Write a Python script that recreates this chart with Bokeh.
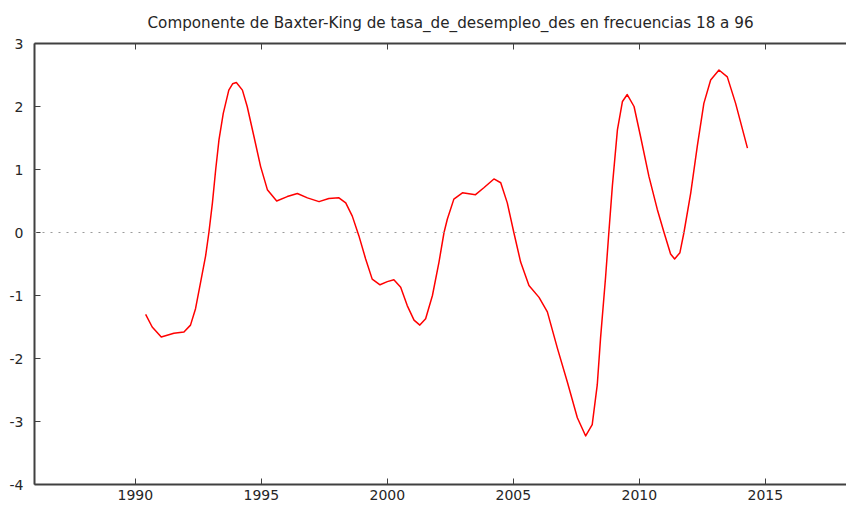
from bokeh.plotting import figure
from bokeh.models import Range1d, LinearAxis, FixedTicker, Span
from bokeh.embed import file_html
from bokeh.resources import INLINE

# Baxter-King cycle component
years = [1990.41, 1990.67, 1991.03, 1991.53, 1991.93, 1992.19, 1992.39, 1992.59,
         1992.79, 1992.92, 1993.06, 1993.19, 1993.32, 1993.49, 1993.71, 1993.86,
         1994.01, 1994.25, 1994.44, 1994.71, 1994.97, 1995.24, 1995.61, 1996.03,
         1996.43, 1996.83, 1997.29, 1997.68, 1998.08, 1998.35, 1998.61, 1998.87,
         1999.14, 1999.40, 1999.71, 2000.00, 2000.26, 2000.53, 2000.79, 2001.06,
         2001.29, 2001.52, 2001.79, 2002.05, 2002.25, 2002.38, 2002.64, 2002.98,
         2003.50, 2003.83, 2004.23, 2004.50, 2004.76, 2005.02, 2005.29, 2005.62,
         2006.02, 2006.35, 2006.75, 2007.14, 2007.54, 2007.87, 2008.13, 2008.33,
         2008.46, 2008.66, 2008.79, 2008.93, 2009.13, 2009.33, 2009.52, 2009.79,
         2010.05, 2010.38, 2010.71, 2010.98, 2011.24, 2011.40, 2011.61, 2011.77,
         2012.04, 2012.30, 2012.56, 2012.83, 2013.16, 2013.49, 2013.82, 2014.29]
bk_values = [-1.30, -1.50, -1.66, -1.60, -1.58, -1.47, -1.21, -0.79,
             -0.37, 0.00, 0.47, 1.00, 1.47, 1.89, 2.26, 2.36,
             2.38, 2.26, 2.00, 1.52, 1.05, 0.68, 0.50, 0.57,
             0.62, 0.55, 0.49, 0.54, 0.55, 0.47, 0.26, -0.05,
             -0.42, -0.74, -0.83, -0.78, -0.75, -0.87, -1.16, -1.39,
             -1.47, -1.37, -1.00, -0.47, 0.00, 0.21, 0.53, 0.63,
             0.60, 0.71, 0.85, 0.79, 0.47, 0.00, -0.47, -0.84,
             -1.03, -1.26, -1.84, -2.37, -2.94, -3.23, -3.05, -2.42,
             -1.68, -0.71, 0.00, 0.74, 1.63, 2.08, 2.19, 2.00,
             1.52, 0.89, 0.37, 0.00, -0.34, -0.42, -0.32, 0.00,
             0.63, 1.37, 2.05, 2.42, 2.58, 2.47, 2.05, 1.34]

x_ticks = [1990, 1995, 2000, 2005, 2010, 2015]
y_ticks = [-4, -3, -2, -1, 0, 1, 2, 3]
y_tick_labels = ["-4", "-3", "-2", "-1", "0", "1", "2", "3"]

title_text = "Componente de Baxter-King de tasa_de_desempleo_des en frecuencias 18 a 96"

FONT = "DejaVu Sans"
AXIS_COLOR = "#404040"
TEXT_COLOR = "#262626"

p = figure(width=846, height=506, output_backend="svg", toolbar_location=None,
           x_range=Range1d(1986.0, 2018.22), y_range=Range1d(-4, 3),
           x_axis_location=None, y_axis_location=None,
           min_border_left=34, min_border_right=0, min_border_top=43,
           min_border_bottom=22)
p.outline_line_color = None
p.grid.visible = False

p.title.text = title_text
p.title.align = "left"
p.title.text_font = FONT
p.title.text_font_size = "15.2px"
p.title.text_font_style = "normal"
p.title.text_color = TEXT_COLOR
p.title.offset = 113
p.title.standoff = 23

def style_axis(ax, show_labels=True, standoff=8):
    ax.axis_line_color = AXIS_COLOR
    ax.axis_line_width = 2
    ax.major_tick_line_color = AXIS_COLOR
    ax.major_tick_line_width = 1
    ax.major_tick_in = 6
    ax.major_tick_out = 0
    ax.minor_tick_line_color = None
    ax.major_label_text_font = FONT
    ax.major_label_text_color = TEXT_COLOR
    if show_labels:
        ax.major_label_text_font_size = "14px"
        ax.major_label_standoff = standoff
    else:
        ax.major_label_text_font_size = "0px"
        ax.major_label_standoff = 0

xb = LinearAxis(ticker=FixedTicker(ticks=x_ticks))
style_axis(xb, standoff=5)
p.add_layout(xb, "below")

xt = LinearAxis(ticker=FixedTicker(ticks=x_ticks))
style_axis(xt, show_labels=False)
p.add_layout(xt, "above")

yl = LinearAxis(ticker=FixedTicker(ticks=y_ticks))
style_axis(yl, standoff=11)
yl.major_label_overrides = {t: s for t, s in zip(y_ticks, y_tick_labels)}
p.add_layout(yl, "left")

zero = Span(location=0, dimension="width", line_color="#9a9a9a",
            line_width=1.2, line_dash="2 6")
p.add_layout(zero)

p.line(years, bk_values, line_color="#ff0000", line_width=1.5,
       line_join="round")

open("out.html", "w").write(file_html(p, INLINE))
